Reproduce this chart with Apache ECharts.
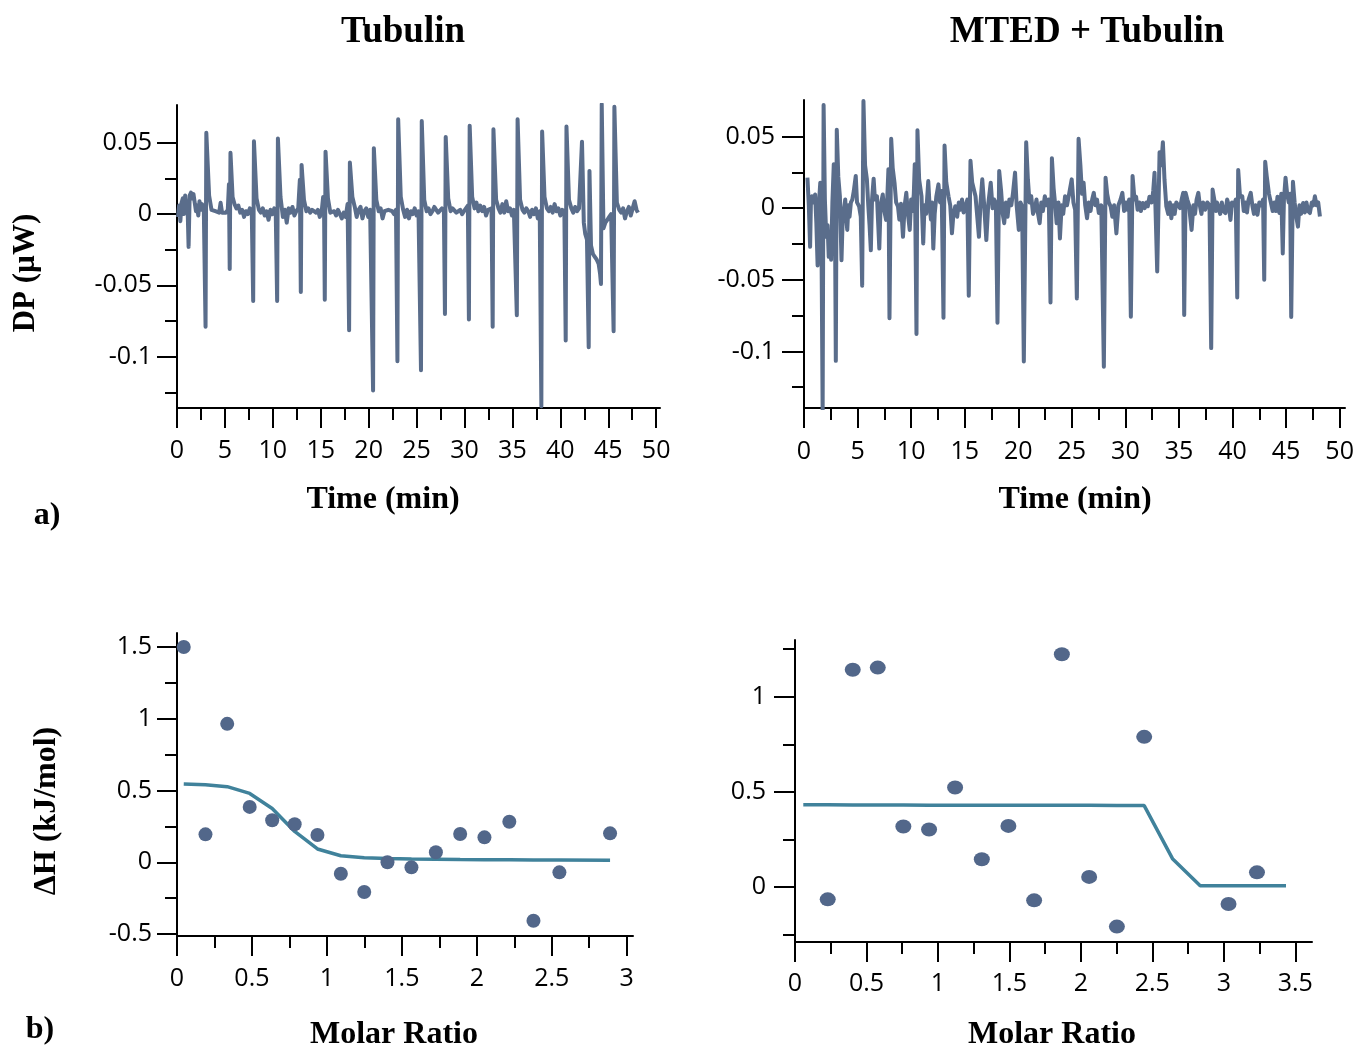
<!DOCTYPE html>
<html>
<head>
<meta charset="utf-8">
<title>ITC titration: Tubulin and MTED + Tubulin</title>
<script src="https://cdn.jsdelivr.net/npm/echarts@6/dist/echarts.min.js"></script>
<style>
  html, body { margin: 0; padding: 0; background: #ffffff; }
  #chart { width: 1364px; height: 1050px; }
</style>
</head>
<body>
<div id="chart"></div>
<script>
// ---- Raw thermograms: [time (min), DP (µW)] ----
const tubulinTrace = [
  [0.10,-0.002],[0.22,0.006],[0.35,-0.005],[0.48,0.008],[0.60,0.011],[0.72,0.000],[0.85,0.013],[0.98,0.004],
  [1.10,0.006],[1.21,-0.023],[1.32,0.013],[1.45,0.015],[1.58,0.011],[1.72,0.014],[1.85,0.008],[1.98,0.002],[2.10,0.006],[2.22,-0.001],[2.35,0.009],[2.50,0.003],[2.62,0.007],[2.80,0.002],
  [2.98,-0.079],[3.06,0.057],[3.35,0.013],[3.60,0.003],[3.80,0.004],[4.00,0.002],[4.20,0.002],[4.40,0.001],[4.55,0.008],[4.70,0.001],[4.90,0.002],[5.10,0.001],[5.30,0.003],[5.42,0.021],
  [5.50,-0.0385],[5.58,0.043],[5.80,0.012],[6.00,0.007],[6.20,0.004],[6.40,0.006],[6.60,0.001],[6.80,0.003],[7.00,-0.002],[7.20,0.002],[7.40,0.000],[7.60,0.004],[7.80,0.002],
  [7.95,-0.061],[8.03,0.051],[8.30,0.011],[8.55,0.003],[8.75,0.001],[8.95,0.004],[9.15,-0.001],[9.35,0.002],[9.55,-0.004],[9.75,0.003],[9.95,0.000],[10.15,0.004],[10.30,0.002],
  [10.45,-0.061],[10.53,0.053],[10.80,0.012],[11.05,-0.002],[11.25,0.003],[11.45,-0.006],[11.65,0.004],[11.85,0.001],[12.05,0.005],[12.25,-0.001],[12.45,0.002],[12.65,0.004],[12.82,0.024],
  [12.92,-0.0546],[13.00,0.0345],[13.25,0.010],[13.50,0.002],[13.70,0.004],[13.90,0.001],[14.10,0.003],[14.30,0.002],[14.50,0.001],[14.70,0.003],[14.90,-0.002],[15.10,0.002],[15.25,0.012],[15.35,-0.001],
  [15.42,-0.060],[15.50,0.0438],[15.75,0.011],[16.00,0.001],[16.20,0.000],[16.40,0.002],[16.60,-0.001],[16.80,0.003],[17.00,0.000],[17.20,-0.003],[17.40,0.001],[17.60,-0.002],[17.80,0.007],
  [17.96,-0.0815],[18.04,0.0361],[18.30,0.012],[18.55,0.005],[18.75,-0.002],[18.95,0.003],[19.15,0.005],[19.35,-0.003],[19.55,0.002],[19.75,0.004],[19.95,-0.002],[20.15,0.003],[20.32,0.002],
  [20.46,-0.1237],[20.54,0.0462],[20.80,0.010],[21.05,0.002],[21.25,0.004],[21.45,-0.003],[21.65,0.002],[21.85,0.001],[22.05,0.003],[22.25,0.003],[22.45,0.002],[22.65,0.000],[22.85,0.003],
  [23.00,-0.1032],[23.08,0.0665],[23.35,0.012],[23.60,0.003],[23.80,-0.002],[24.00,0.003],[24.20,-0.003],[24.40,0.002],[24.60,0.000],[24.80,0.004],[25.00,-0.001],[25.20,0.002],[25.35,0.003],
  [25.46,-0.1095],[25.54,0.0653],[25.80,0.010],[26.05,0.002],[26.25,0.004],[26.45,0.000],[26.65,0.002],[26.85,0.005],[27.05,0.003],[27.25,0.001],[27.45,0.002],[27.65,0.004],[27.85,0.002],
  [27.96,-0.070],[28.04,0.0541],[28.30,0.011],[28.55,0.002],[28.75,0.004],[28.95,0.003],[29.15,0.001],[29.35,0.002],[29.55,0.003],[29.75,0.000],[29.95,0.002],[30.15,0.003],[30.35,0.006],
  [30.46,-0.074],[30.54,0.062],[30.80,0.012],[31.05,0.004],[31.25,0.008],[31.45,0.002],[31.65,0.006],[31.85,0.002],[32.05,0.005],[32.25,-0.001],[32.45,0.003],[32.65,0.002],[32.82,0.004],
  [32.94,-0.079],[33.02,0.0595],[33.30,0.010],[33.55,0.004],[33.75,0.001],[33.95,0.007],[34.15,0.001],[34.35,0.009],[34.55,0.002],[34.75,0.004],[34.95,-0.001],[35.15,0.003],[35.35,0.002],
  [35.46,-0.071],[35.54,0.0665],[35.80,0.010],[36.05,0.003],[36.25,0.001],[36.45,0.004],[36.65,0.002],[36.85,-0.002],[37.05,0.003],[37.25,0.000],[37.45,0.004],[37.65,-0.003],[37.85,0.002],
  [38.02,-0.1347],[38.10,0.0579],[38.35,0.012],[38.60,0.004],[38.80,0.002],[39.00,0.005],[39.20,0.001],[39.40,0.007],[39.60,0.002],[39.80,0.004],[40.00,-0.001],[40.20,0.003],[40.42,0.002],
  [40.56,-0.0887],[40.64,0.0614],[40.90,0.010],[41.15,0.004],[41.35,0.001],[41.55,0.005],[41.75,0.002],[41.95,0.004],[42.15,0.003],
  [42.26,0.0508],[42.45,-0.006],[42.60,-0.014],[42.78,-0.018],
  [42.96,-0.0934],[43.04,0.0303],[43.20,-0.022],[43.40,-0.028],[43.60,-0.030],[43.80,-0.032],[44.00,-0.035],[44.15,-0.042],[44.24,-0.049],
  [44.32,0.077],[44.50,-0.010],[44.70,-0.006],[44.90,-0.004],[45.10,-0.002],[45.30,0.000],[45.45,-0.001],
  [45.56,-0.0822],[45.64,0.0753],[45.90,0.008],[46.15,0.003],[46.35,0.001],[46.55,0.004],[46.75,-0.003],[46.95,0.002],[47.15,0.005],[47.35,-0.001],[47.55,0.004],[47.75,0.009],[47.95,0.003],[48.10,0.001]
];

const mtedTrace = [
  [0.32,0.0213],[0.45,0.002],[0.57,-0.027],[0.65,0.006],[0.73,0.0083],[0.88,0.004],[1.04,0.0095],[1.15,-0.010],[1.27,-0.040],[1.40,0.004],[1.52,0.0178],[1.62,-0.010],
  [1.74,-0.1413],[1.83,0.072],[1.95,0.006],[2.08,-0.020],[2.20,-0.012],[2.31,-0.034],[2.42,-0.018],[2.53,-0.036],[2.65,0.004],[2.78,0.0307],[2.88,0.010],
  [2.97,-0.1066],[3.06,0.0547],[3.20,0.022],[3.35,0.0083],[3.50,-0.0364],[3.60,-0.010],[3.72,-0.001],[3.85,0.006],[3.95,-0.008],[4.04,-0.0152],[4.15,0.002],[4.25,-0.006],[4.38,0.004],[4.51,0.006],[4.65,0.012],[4.83,0.0225],[4.95,0.004],[5.14,0.0013],[5.30,-0.006],
  [5.43,-0.0541],[5.55,0.0748],[5.70,0.030],[5.87,0.0201],[6.00,0.002],[6.12,-0.012],[6.24,-0.0294],[6.35,0.006],[6.50,0.0206],[6.62,0.006],[6.81,0.0083],[6.92,-0.010],[7.03,-0.0282],[7.15,0.002],[7.35,0.0095],[7.50,-0.002],[7.66,-0.0082],[7.78,0.008],[7.88,0.0272],
  [7.98,-0.0769],[8.14,0.0484],[8.28,0.028],[8.45,0.0178],[8.60,0.004],[8.77,0.0013],[8.90,-0.008],[9.05,0.003],[9.24,-0.020],[9.40,0.002],[9.55,0.0107],[9.70,-0.004],[9.87,-0.0152],[10.00,0.006],[10.12,-0.002],[10.25,0.010],[10.34,0.0307],
  [10.50,-0.0878],[10.59,0.0543],[10.75,0.020],[10.97,0.0083],[11.13,-0.0246],[11.25,0.002],[11.40,-0.004],[11.60,0.0189],[11.72,0.002],[11.85,-0.008],[11.95,0.004],[12.07,-0.0282],[12.20,-0.004],[12.35,0.008],[12.55,0.0166],[12.70,0.004],[12.85,0.012],
  [13.02,-0.0765],[13.12,0.0437],[13.28,0.018],[13.49,0.0083],[13.65,0.002],[13.81,-0.0176],[13.95,-0.004],[14.12,0.0013],[14.30,-0.006],[14.45,0.004],[14.60,-0.0011],[14.75,0.006],[14.90,-0.003],[15.07,0.0013],[15.25,0.006],
  [15.38,-0.0612],[15.54,0.0331],[15.70,0.018],[16.01,0.0083],[16.15,-0.004],[16.33,-0.020],[16.48,0.004],[16.64,0.0201],[16.80,0.004],[17.02,-0.0223],[17.20,0.003],[17.43,0.0178],[17.60,0.000],[17.75,0.006],[17.91,0.0036],
  [18.06,-0.080],[18.22,0.026],[18.40,0.012],[18.55,-0.004],[18.69,-0.0105],[18.85,0.004],[19.00,-0.006],[19.17,0.006],[19.35,0.002],[19.50,0.010],[19.70,0.0248],[19.85,0.002],[20.05,-0.0152],[20.20,0.004],[20.36,0.0013],
  [20.52,-0.1071],[20.74,0.046],[20.90,0.020],[21.05,0.004],[21.21,0.0083],[21.38,-0.004],[21.53,-0.0011],[21.70,0.006],[21.85,-0.004],[22.00,-0.0105],[22.15,0.004],[22.30,-0.002],[22.48,0.0083],[22.65,0.002],[22.85,0.006],
  [23.01,-0.0659],[23.14,0.0349],[23.30,0.014],[23.45,0.002],[23.58,-0.0105],[23.75,0.004],[23.89,-0.0211],[24.05,0.002],[24.20,-0.004],[24.37,0.0083],[24.55,0.002],[24.75,0.010],[24.99,0.0201],[25.15,0.004],[25.31,-0.0011],
  [25.47,-0.063],[25.63,0.0484],[25.80,0.030],[25.95,0.010],[26.10,0.0178],[26.25,0.002],[26.42,-0.007],[26.58,0.004],[26.75,-0.002],[26.90,0.006],[27.05,0.0107],[27.20,0.002],[27.35,0.006],[27.52,-0.0034],[27.75,0.002],
  [27.99,-0.1107],[28.15,0.0213],[28.30,0.010],[28.45,0.004],[28.62,0.0013],[28.78,-0.006],[28.95,0.002],[29.16,-0.0176],[29.35,0.002],[29.55,0.006],[29.72,0.0107],[29.88,-0.002],[30.05,0.004],[30.20,-0.0011],[30.35,0.006],
  [30.51,-0.0758],[30.67,0.0225],[30.85,0.006],[31.00,0.008],[31.14,-0.0011],[31.30,0.004],[31.45,-0.002],[31.62,0.0036],[31.80,0.000],[31.95,0.004],[32.09,0.0013],[32.25,0.008],[32.45,0.004],[32.60,0.012],[32.72,0.0248],
  [32.97,-0.0442],[33.19,0.039],[33.35,0.030],[33.50,0.046],[33.65,0.020],[33.82,0.0013],[34.00,-0.004],[34.15,0.004],[34.29,-0.007],[34.45,0.002],[34.60,-0.004],[34.75,0.004],[34.92,0.0036],[35.10,0.000],[35.25,0.006],[35.40,0.0107],
  [35.49,-0.0746],[35.62,0.0107],[35.78,0.006],[35.95,0.002],[36.05,-0.006],[36.18,-0.0152],[36.35,0.002],[36.50,-0.004],[36.65,0.006],[36.81,0.0107],[36.95,0.002],[37.10,-0.004],[37.25,0.004],[37.45,-0.0011],[37.65,0.004],[37.85,0.002],
  [38.01,-0.0977],[38.14,0.013],[38.30,0.006],[38.45,-0.002],[38.55,0.004],[38.70,0.0036],[38.85,-0.004],[39.00,0.004],[39.15,-0.002],[39.34,-0.0034],[39.50,0.006],[39.65,0.002],[39.81,-0.0082],[39.95,0.004],[40.15,0.002],[40.30,0.006],
  [40.44,-0.0623],[40.53,0.0267],[40.70,0.008],[40.91,0.0083],[41.05,-0.002],[41.20,0.004],[41.35,-0.003],[41.50,0.006],[41.70,0.0107],[41.85,0.002],[42.00,-0.004],[42.15,0.002],[42.33,-0.0046],[42.50,0.004],[42.70,0.002],[42.85,0.006],
  [42.96,-0.050],[43.05,0.0324],[43.20,0.022],[43.40,0.010],[43.59,0.0036],[43.75,-0.002],[43.90,0.004],[44.05,-0.002],[44.20,0.008],[44.38,-0.0034],[44.55,0.010],[44.69,-0.0317],[44.80,0.006],[44.95,0.0213],[45.10,0.010],[45.25,0.004],[45.38,0.010],
  [45.48,-0.076],[45.64,0.0185],[45.80,0.004],[45.95,-0.006],[46.11,-0.0129],[46.25,0.002],[46.40,-0.004],[46.59,0.0036],[46.75,-0.003],[46.90,0.004],[47.05,-0.002],[47.22,-0.0034],[47.40,0.004],[47.55,0.002],[47.69,0.0083],[47.85,0.002],[48.00,0.004],[48.16,-0.0058]
];

// ---- Integrated heats (kJ/mol) vs molar ratio ----
const tubulinRatio = [0.045, 0.19, 0.335, 0.485, 0.635, 0.785, 0.937, 1.093, 1.249, 1.404, 1.564, 1.727, 1.889, 2.051, 2.217, 2.378, 2.551, 2.889];
const tubulinHeat  = [1.50, 0.195, 0.965, 0.386, 0.293, 0.265, 0.19, -0.08, -0.207, 0.0, -0.035, 0.07, 0.197, 0.174, 0.283, -0.407, -0.07, 0.202];
const tubulinFit   = [0.545, 0.540, 0.527, 0.480, 0.375, 0.215, 0.093, 0.046, 0.032, 0.026, 0.023, 0.021, 0.019, 0.018, 0.017, 0.016, 0.016, 0.015];

const mtedRatio = [0.229, 0.404, 0.579, 0.758, 0.938, 1.12, 1.307, 1.493, 1.673, 1.867, 2.058, 2.252, 2.443, 3.033, 3.232];
const mtedHeat  = [-0.065, 1.142, 1.153, 0.318, 0.302, 0.523, 0.146, 0.321, -0.07, 1.223, 0.053, -0.208, 0.789, -0.089, 0.077];
const mtedFitRatio = [0.058, 0.229, 0.404, 0.579, 0.758, 0.938, 1.12, 1.307, 1.493, 1.673, 1.867, 2.058, 2.252, 2.443, 2.641, 2.835, 3.033, 3.232, 3.435];
const mtedFitHeat  = [0.432, 0.432, 0.431, 0.431, 0.431, 0.430, 0.430, 0.430, 0.429, 0.429, 0.429, 0.429, 0.428, 0.428, 0.149, 0.007, 0.007, 0.007, 0.007];

// ---- Tick positions and labels ----
const timeMajor = [0, 5, 10, 15, 20, 25, 30, 35, 40, 45, 50];
const timeMinor = [2.5, 7.5, 12.5, 17.5, 22.5, 27.5, 32.5, 37.5, 42.5, 47.5];
const timeLabels = ['0', '5', '10', '15', '20', '25', '30', '35', '40', '45', '50'];
const dpMajor = [-0.1, -0.05, 0, 0.05];
const dpMinor = [-0.125, -0.075, -0.025, 0.025];
const dpLabels = ['-0.1', '-0.05', '0', '0.05'];
const ratioMajorA = [0, 0.5, 1, 1.5, 2, 2.5, 3];
const ratioMinorA = [0.25, 0.75, 1.25, 1.75, 2.25, 2.75];
const ratioLabelsA = ['0', '0.5', '1', '1.5', '2', '2.5', '3'];
const ratioMajorB = [0, 0.5, 1, 1.5, 2, 2.5, 3, 3.5];
const ratioMinorB = [0.25, 0.75, 1.25, 1.75, 2.25, 2.75, 3.25];
const ratioLabelsB = ['0', '0.5', '1', '1.5', '2', '2.5', '3', '3.5'];
const heatMajorA = [-0.5, 0, 0.5, 1, 1.5];
const heatMinorA = [-0.25, 0.25, 0.75, 1.25];
const heatLabelsA = ['-0.5', '0', '0.5', '1', '1.5'];
const heatMajorB = [0, 0.5, 1];
const heatMinorB = [-0.25, 0.25, 0.75, 1.25];
const heatLabelsB = ['0', '0.5', '1'];

const TRACE_COLOR = '#5a6d8b';
const DOT_COLOR = '#52678a';
const FIT_COLOR = '#40829b';
const TICK_FONT = 'Open Sans';
const SERIF = '"Liberation Serif", "Times New Roman", serif';

// A value axis pair: one carries line, labels and long ticks; a twin carries the short ticks.
function axisPair(kind, grid, min, max, major, minor, labels, margin, majorLen) {
  const fmt = v => {
    const i = major.findIndex(m => Math.abs(m - v) < 1e-9);
    return i >= 0 ? labels[i] : '';
  };
  const base = {
    type: 'value', gridIndex: grid, min: min, max: max,
    position: kind === 'x' ? 'bottom' : 'left',
    splitLine: { show: false },
    minorTick: { show: false },
    minorSplitLine: { show: false }
  };
  const main = Object.assign({}, base, {
    axisLine: { show: true, onZero: false, lineStyle: { color: '#000', width: 2 } },
    axisTick: { show: true, customValues: major, length: majorLen, lineStyle: { color: '#000', width: 2 } },
    axisLabel: {
      show: true, customValues: major, formatter: fmt, margin: margin,
      color: '#000', fontFamily: TICK_FONT, fontSize: 25, hideOverlap: false
    }
  });
  const twin = Object.assign({}, base, {
    axisLine: { show: false, onZero: false },
    axisTick: { show: true, customValues: minor, length: 12, lineStyle: { color: '#000', width: 2 } },
    axisLabel: { show: false }
  });
  return [main, twin];
}

const xAxes = [].concat(
  axisPair('x', 0, 0, 50.4, timeMajor, timeMinor, timeLabels, 30, 20),
  axisPair('x', 1, 0, 50.5, timeMajor, timeMinor, timeLabels, 31, 20),
  axisPair('x', 2, 0, 3.042, ratioMajorA, ratioMinorA, ratioLabelsA, 30, 20),
  axisPair('x', 3, 0, 3.617, ratioMajorB, ratioMinorB, ratioLabelsB, 29, 20)
);
const yAxes = [].concat(
  axisPair('y', 0, -0.136, 0.0765, dpMajor, dpMinor, dpLabels, 25, 20),
  axisPair('y', 1, -0.1395, 0.0755, dpMajor, dpMinor, dpLabels, 29, 22),
  axisPair('y', 2, -0.5135, 1.598, heatMajorA, heatMinorA, heatLabelsA, 25, 20),
  axisPair('y', 3, -0.289, 1.298, heatMajorB, heatMinorB, heatLabelsB, 29, 21)
);

function label(text, x, y, size, rotate) {
  return {
    type: 'text', x: x, y: y, rotation: rotate ? Math.PI / 2 : 0,
    style: {
      text: text, fill: '#000', align: 'center', verticalAlign: 'middle',
      font: 'bold ' + size + 'px ' + SERIF
    }
  };
}

const option = {
  animation: false,
  backgroundColor: '#ffffff',
  grid: [
    { left: 177, top: 105, width: 483, height: 303 },
    { left: 804, top: 100, width: 541, height: 308 },
    { left: 177, top: 633, width: 456, height: 303 },
    { left: 795, top: 640, width: 517, height: 302 }
  ],
  xAxis: xAxes,
  yAxis: yAxes,
  graphic: [
    label('Tubulin', 403, 32, 37),
    label('MTED + Tubulin', 1087, 32, 37),
    label('DP (\u00b5W)', 26, 273, 31, true),
    label('Time (min)', 383, 500, 32),
    label('Time (min)', 1075, 500, 32),
    label('a)', 47, 516, 32),
    label('\u0394H (kJ/mol)', 47, 811, 32, true),
    label('Molar Ratio', 394, 1035, 32),
    label('Molar Ratio', 1052, 1035, 32),
    label('b)', 40, 1030, 32)
  ],
  series: [
    {
      type: 'line', xAxisIndex: 0, yAxisIndex: 0, data: tubulinTrace,
      showSymbol: false, symbol: 'none', clip: true,
      lineStyle: { color: TRACE_COLOR, width: 4, join: 'round' }
    },
    {
      type: 'line', xAxisIndex: 2, yAxisIndex: 2, data: mtedTrace,
      showSymbol: false, symbol: 'none', clip: true,
      lineStyle: { color: TRACE_COLOR, width: 4, join: 'round' }
    },
    {
      type: 'line', xAxisIndex: 4, yAxisIndex: 4,
      data: tubulinRatio.map((r, i) => [r, tubulinFit[i]]),
      showSymbol: false, symbol: 'none',
      lineStyle: { color: FIT_COLOR, width: 3.5 }, z: 2
    },
    {
      type: 'scatter', xAxisIndex: 4, yAxisIndex: 4,
      data: tubulinRatio.map((r, i) => [r, tubulinHeat[i]]),
      symbol: 'circle', symbolSize: 14, itemStyle: { color: DOT_COLOR, opacity: 1 }, z: 3
    },
    {
      type: 'line', xAxisIndex: 6, yAxisIndex: 6,
      data: mtedFitRatio.map((r, i) => [r, mtedFitHeat[i]]),
      showSymbol: false, symbol: 'none',
      lineStyle: { color: FIT_COLOR, width: 3.5 }, z: 2
    },
    {
      type: 'scatter', xAxisIndex: 6, yAxisIndex: 6,
      data: mtedRatio.map((r, i) => [r, mtedHeat[i]]),
      symbol: 'circle', symbolSize: [16, 14], itemStyle: { color: DOT_COLOR, opacity: 1 }, z: 3
    }
  ]
};

const chart = echarts.init(document.getElementById('chart'), null, { renderer: 'canvas' });
chart.setOption(option);
</script>
</body>
</html>
